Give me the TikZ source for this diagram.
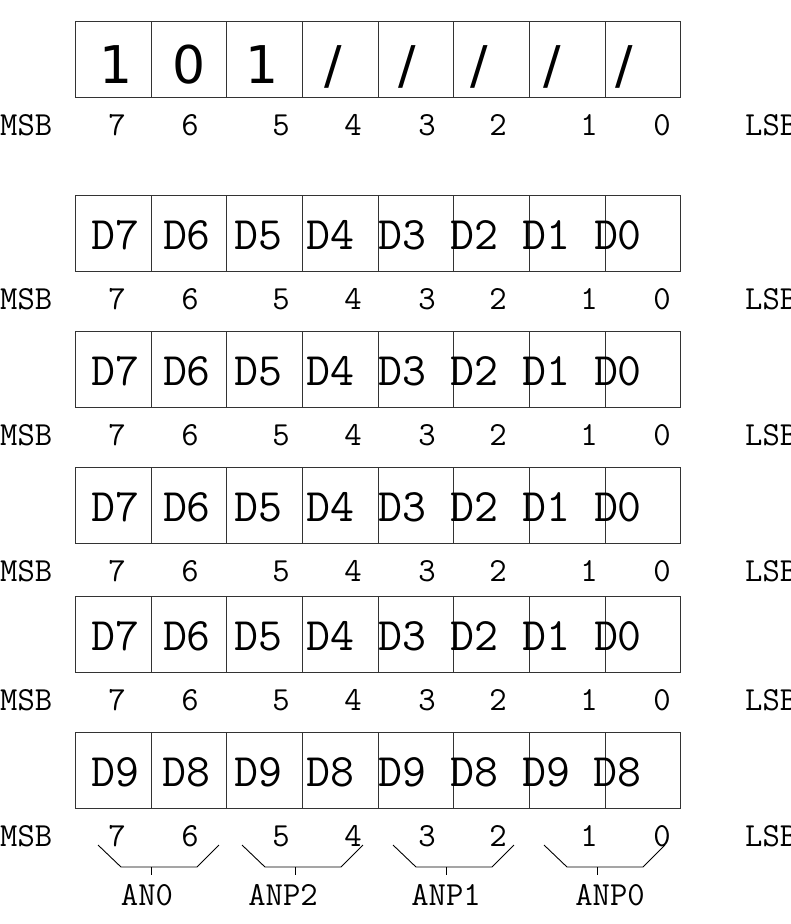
\documentclass[tikz,border=0pt]{standalone}
\usepackage{fontspec}
\newfontfamily\bitfont{DejaVu Sans}
\usetikzlibrary{positioning}

\begin{document}
\begin{tikzpicture}[x=1pt, y=-1pt,
    cell/.style={rectangle, draw=black!80, line width=1pt, minimum width=75.7pt, minimum height=76pt, inner sep=0pt},
    datatext/.style={anchor=base west, inner sep=0pt, font=\ttfamily\fontsize{46.5}{54}\selectfont},
    bittext/.style={anchor=base, inner sep=0pt, font=\bitfont\fontsize{52}{60}\selectfont},
    numtext/.style={anchor=base, inner sep=0pt, font=\ttfamily\fontsize{33.7}{40}\selectfont},
    brace/.style={line width=0.9pt},
    ]
    \useasboundingbox (0,0) rectangle (791,924);
    % Registers with bit numbers
    \foreach \ytop [count=\row] in {21,195,331,467,596,732} {
      \foreach \b in {7,...,0}
        \node[cell] (r\row b\b) at ({113.2+75.7*(7-\b)}, \ytop+38) {};
      \node[numtext, anchor=base west] (msb\row) at (0, \ytop+114) {MSB};
      \node[numtext, anchor=base west] (lsb\row) at (745, \ytop+114) {LSB};
      \foreach \n/\x in {7/117,6/190,5/281,4/353,3/427,2/498,1/589,0/662}
        \node[numtext] (n\row\n) at (\x, \ytop+114) {\n};
    }

    % Contents
    \node[bittext] (v7) at (116,83) {1};
    \node[bittext] (v6) at (189,83) {0};
    \node[bittext] (v5) at (262,83) {1};
    \foreach \x [count=\k] in {333,407,479,552,624}
      \node[bittext] (s\k) at (\x,83) {/};
    \foreach \ytop [count=\row from 2] in {195,331,467,596}
      \node[datatext] (d\row) at (91, \ytop+54) {D7 D6 D5 D4 D3 D2 D1 D0};
    \node[datatext] (d6) at (91, 786) {D9 D8 D9 D8 D9 D8 D9 D8};

    % Groups
    \foreach \a/\name/\lx in {98/AN0/147, 242/ANP2/283, 393/ANP1/446, 544/ANP0/610} {
      \draw[brace] (\a,845) -- (\a+23,867) -- (\a+99,867) -- (\a+121,845);
      \draw[brace] (\a+53,867) -- (\a+53,875);
      \node[numtext] (g\name) at (\lx,905) {\name};
    }
\end{tikzpicture}
\end{document}
